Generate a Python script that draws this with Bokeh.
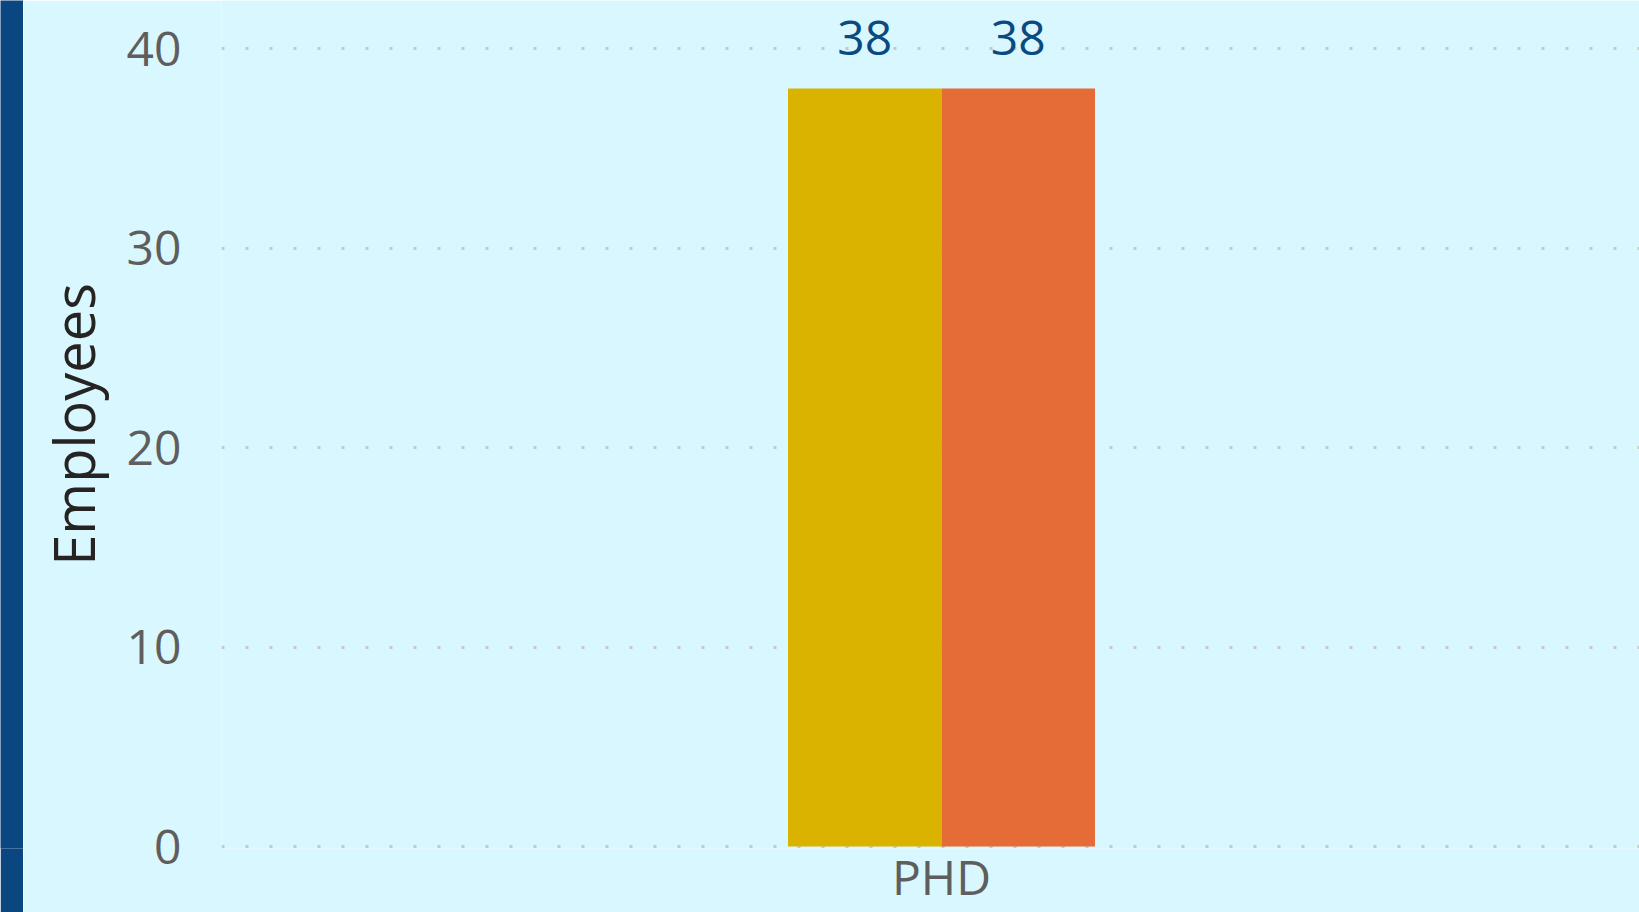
from bokeh.plotting import figure
from bokeh.models import ColumnDataSource, Range1d, FixedTicker, LabelSet
from bokeh.layouts import row
from bokeh.transform import dodge
from bokeh.core.properties import value
from bokeh.embed import file_html
from bokeh.resources import INLINE

# ---- data ----
categories = ["PHD"]
series_names = ["Series 1", "Series 2"]
series_1 = [38]
series_2 = [38]
y_ticks = [0, 10, 20, 30, 40]

# ---- styles ----
BG = "#d9f7fe"
STRIP = "#0a4780"
C1 = "#d9b300"
C2 = "#e66c37"
TICK_COLOR = "#605e5c"
TITLE_COLOR = "#252423"
LABEL_COLOR = "#0a4a82"
FONT = "Open Sans"
BAR_W = 0.4

xs = list(range(len(categories)))
src = ColumnDataSource(dict(
    x=xs,
    s1=series_1,
    s2=series_2,
    t1=[str(v) for v in series_1],
    t2=[str(v) for v in series_2],
))

p = figure(
    width=1616, height=912,
    x_range=Range1d(-1.8762, 1.8189),
    y_range=Range1d(-0.1, 42.406),
    output_backend="svg", toolbar_location=None,
    min_border_left=198, min_border_right=0,
    min_border_top=0, min_border_bottom=64,
)
p.background_fill_color = BG
p.border_fill_color = BG
p.outline_line_color = None

p.vbar(x=dodge("x", -BAR_W / 2, range=p.x_range), top="s1", width=BAR_W,
       source=src, fill_color=C1, line_color=None, name=series_names[0])
p.vbar(x=dodge("x", BAR_W / 2, range=p.x_range), top="s2", width=BAR_W,
       source=src, fill_color=C2, line_color=None, name=series_names[1])

for col_y, col_t, off in (("s1", "t1", -BAR_W / 2), ("s2", "t2", BAR_W / 2)):
    p.add_layout(LabelSet(
        x=dodge("x", off, range=p.x_range), y=col_y, text=col_t, source=src,
        text_align="center", text_baseline="alphabetic", y_offset=33,
        text_font=value(FONT), text_font_size=value("48px"), text_color=LABEL_COLOR,
    ))

# y axis
p.yaxis.ticker = FixedTicker(ticks=y_ticks)
p.yaxis.axis_line_color = None
p.yaxis.major_tick_line_color = None
p.yaxis.minor_tick_line_color = None
p.yaxis.major_label_text_font = FONT
p.yaxis.major_label_text_font_size = "48px"
p.yaxis.major_label_text_color = TICK_COLOR
p.yaxis.major_label_standoff = 34
p.yaxis.axis_label = "Employees"
p.yaxis.axis_label_text_font = FONT
p.yaxis.axis_label_text_font_size = "56px"
p.yaxis.axis_label_text_font_style = "normal"
p.yaxis.axis_label_text_color = TITLE_COLOR
p.yaxis.axis_label_standoff = 13

# x axis
p.xaxis.ticker = FixedTicker(ticks=xs)
p.xaxis.major_label_overrides = {i: c for i, c in zip(xs, categories)}
p.xaxis.axis_line_color = None
p.xaxis.major_tick_line_color = None
p.xaxis.minor_tick_line_color = None
p.xaxis.major_label_text_font = FONT
p.xaxis.major_label_text_font_size = "48px"
p.xaxis.major_label_text_color = TICK_COLOR
p.xaxis.major_label_standoff = -11

# grid
p.xgrid.visible = False
p.ygrid.ticker = FixedTicker(ticks=y_ticks)
p.ygrid.grid_line_color = "#c8c8c8"
p.ygrid.grid_line_dash = "3 21"
p.ygrid.grid_line_width = 3

# left accent strip
strip = figure(width=23, height=912, output_backend="svg", toolbar_location=None,
               x_range=Range1d(0, 1), y_range=Range1d(0, 1),
               min_border_left=0, min_border_right=0, min_border_top=0, min_border_bottom=0)
strip.background_fill_color = STRIP
strip.border_fill_color = STRIP
strip.outline_line_color = None
strip.axis.visible = False
strip.grid.visible = False

layout = row(strip, p, spacing=0)
open("out.html", "w").write(file_html(layout, INLINE))
